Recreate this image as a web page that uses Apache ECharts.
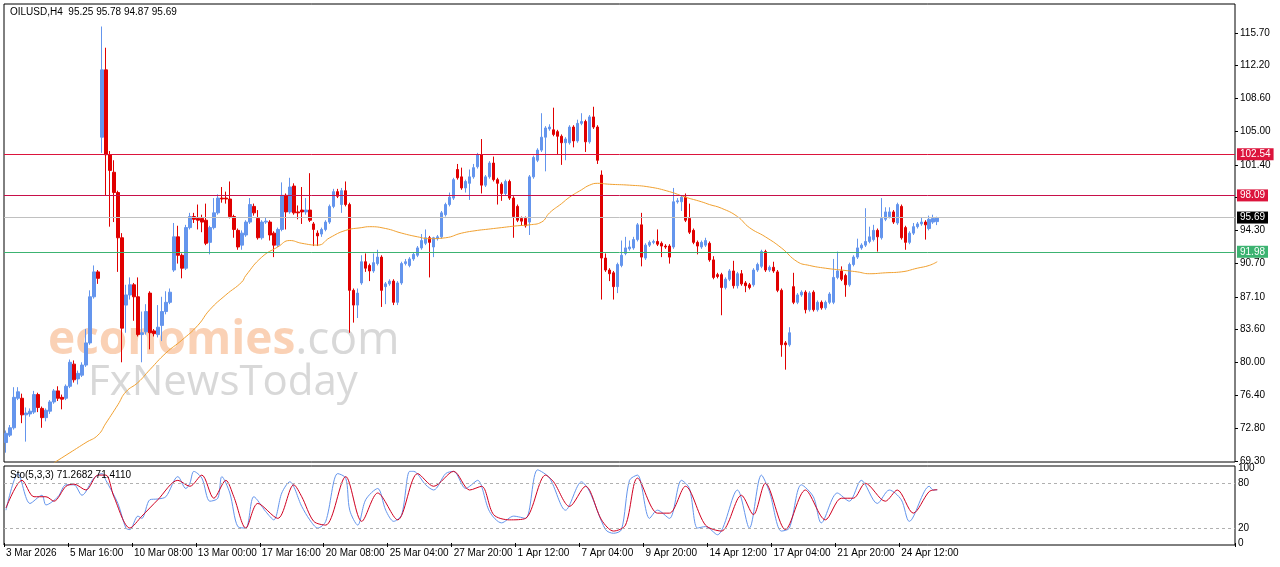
<!DOCTYPE html>
<html>
<head>
<meta charset="utf-8">
<title>OILUSD H4</title>
<script src="https://cdn.jsdelivr.net/npm/echarts@6/dist/echarts.min.js"></script>
<style>html,body{margin:0;padding:0;background:#fff;}</style>
</head>
<body>
<div id="main" style="width:1280px;height:567px;"></div>
<script>
// candles: [open, close, low, high]
var candles = [
[71.3,72.3,70.2,72.6],[72.1,72.9,71.9,73.2],[72.9,76.2,72.7,77.3],[76.1,76.8,75.9,77.3],[76.1,74.3,73.4,76.6],
[74.3,74.5,71.4,75.1],[74.4,74.7,74.1,75.0],[74.6,76.5,74.4,76.9],[76.5,75.1,74.6,76.7],[75.0,74.0,72.9,75.2],
[74.0,74.8,73.6,75.0],[74.7,75.7,74.4,75.9],[75.7,76.9,75.5,77.1],[76.9,76.1,75.8,77.4],[76.2,76.0,74.9,76.5],
[76.1,77.4,75.9,77.6],[77.4,80.0,77.2,80.3],[79.8,78.1,77.8,80.2],[78.2,78.8,77.6,79.1],[78.6,79.7,78.4,80.0],
[79.7,82.1,79.5,83.6],[82.1,87.1,81.9,87.8],[87.1,89.8,86.9,90.5],[89.8,89.1,88.5,90.0],[104.4,111.7,102.7,116.4],
[111.7,102.5,98.1,114.1],[102.5,100.8,94.7,102.9],[100.6,98.4,95.2,101.9],[98.4,93.5,89.8,98.6],[93.5,83.7,80.0,94.0],
[86.2,87.3,83.2,88.4],[87.3,88.4,86.8,89.2],[88.4,87.1,84.5,88.6],[87.1,83.0,82.8,89.2],[83.0,83.2,80.0,85.5],
[83.3,85.5,83.0,86.3],[87.5,83.2,81.4,87.7],[83.4,83.1,82.8,83.6],[83.0,83.8,82.7,86.2],[84.0,85.5,82.3,87.1],
[85.5,86.5,85.2,87.7],[86.5,87.6,86.3,88.0],[90.0,93.6,89.8,95.1],[93.6,91.6,90.7,94.8],[91.6,90.2,89.1,91.8],
[90.2,94.6,90.0,94.9],[94.6,95.8,94.4,96.2],[95.8,95.5,95.1,96.2],[95.6,95.4,94.4,97.1],[95.6,95.2,94.1,96.0],
[95.4,92.9,92.7,97.2],[93.0,94.6,91.7,94.8],[94.6,96.2,94.4,97.8],[96.2,97.8,96.0,98.2],[97.8,97.7,97.3,99.0],
[97.8,97.7,97.2,98.5],[97.7,95.8,95.6,99.6],[95.8,94.4,93.5,96.0],[94.3,92.5,92.2,94.5],[92.7,94.0,92.2,94.3],
[93.8,95.2,93.6,95.4],[95.2,97.1,95.0,97.8],[96.9,96.2,95.9,97.2],[95.6,93.5,93.3,96.5],[93.5,95.2,93.3,95.4],
[95.2,95.3,95.0,95.7],[95.2,93.8,93.2,95.4],[94.0,92.7,91.4,94.2],[92.7,94.4,92.5,94.6],[94.4,98.1,94.2,99.5],
[98.1,96.3,94.4,98.3],[96.3,99.0,96.1,100.0],[99.1,96.2,96.0,99.4],[96.3,96.2,95.5,97.0],[96.5,96.3,95.0,99.0],
[96.3,96.5,96.0,97.8],[96.5,95.4,95.2,100.5],[95.0,94.4,92.6,95.2],[94.0,93.7,92.6,94.3],[93.9,94.4,93.6,94.6],
[94.4,95.2,94.2,95.4],[95.2,96.9,95.0,97.1],[96.9,98.5,96.7,98.8],[98.5,98.0,97.8,98.8],[97.1,98.6,96.2,98.9],
[98.6,97.1,96.9,99.6],[97.1,87.8,83.2,97.3],[87.8,86.2,84.3,88.0],[86.2,87.5,84.8,88.0],[88.6,90.9,88.4,91.6],
[90.9,90.2,89.8,91.8],[90.5,89.9,88.8,90.7],[89.9,90.8,89.7,91.8],[90.7,91.4,90.5,92.2],[91.4,87.8,86.0,91.6],
[88.2,88.5,86.3,88.7],[88.5,88.8,88.3,89.0],[88.8,86.5,86.2,89.0],[86.5,88.6,86.2,88.8],[88.6,90.7,88.4,90.9],
[90.7,90.9,90.5,91.2],[90.5,91.2,90.3,91.4],[91.2,91.7,91.0,91.9],[91.6,92.4,91.4,92.6],[92.4,93.2,92.2,93.9],
[92.9,93.5,92.7,94.4],[93.5,93.0,89.2,93.7],[92.5,93.5,91.4,93.6],[93.4,93.6,93.2,93.8],[93.6,96.2,93.4,96.4],
[96.0,97.1,95.8,97.3],[97.1,97.9,96.9,98.4],[97.8,99.8,97.6,100.0],[100.9,100.0,99.8,101.5],[100.1,98.9,98.7,101.1],
[98.9,99.6,98.4,99.8],[99.4,100.1,97.6,100.9],[100.1,101.1,99.9,101.5],[101.2,102.5,101.0,102.7],[102.5,99.2,98.3,104.2],
[99.2,100.1,99.0,100.3],[100.1,101.6,99.9,101.8],[101.6,99.8,99.6,102.3],[99.8,99.4,97.1,100.0],[99.3,98.3,97.5,99.5],
[98.3,99.6,98.1,99.8],[99.6,97.8,97.6,99.8],[97.8,95.8,93.5,98.0],[96.9,95.4,95.2,97.1],[95.6,95.3,94.8,95.8],
[95.6,94.8,94.6,95.8],[95.2,100.1,93.8,100.3],[100.1,102.2,99.9,102.4],[101.9,103.0,101.7,103.2],[103.0,104.4,102.8,107.0],
[104.4,105.4,100.7,105.6],[105.3,105.5,105.1,105.8],[105.2,104.7,104.5,107.6],[105.0,104.5,102.5,105.2],[104.5,103.8,101.4,104.7],
[103.8,104.2,101.9,104.4],[103.8,105.5,103.6,105.7],[105.5,104.0,103.3,105.7],[104.0,105.9,103.8,106.3],[105.9,106.1,105.7,107.0],
[106.1,103.9,102.8,106.3],[103.9,106.6,103.7,106.8],[106.6,105.5,105.3,107.7],[105.5,101.9,101.5,105.7],[100.3,91.3,86.8,100.8],
[91.3,90.0,89.8,91.8],[90.0,89.6,88.8,90.2],[89.7,88.2,86.8,89.9],[88.2,90.6,87.5,90.8],[90.5,91.6,90.3,93.2],
[91.8,92.4,91.6,93.6],[92.3,92.5,92.1,93.2],[92.4,93.3,92.2,93.6],[93.3,94.9,93.1,95.1],[94.9,91.4,90.4,96.2],
[91.3,92.7,91.1,92.9],[92.7,93.0,92.5,93.2],[93.0,93.1,92.8,93.3],[93.1,92.8,92.6,94.4],[92.9,92.6,91.4,93.1],
[92.6,92.5,92.3,92.8],[92.6,91.4,90.7,92.8],[92.5,97.4,92.3,98.9],[97.4,97.5,97.2,97.8],[97.4,97.9,96.4,98.1],
[97.9,95.4,95.2,98.3],[95.6,94.1,93.9,97.2],[94.3,93.0,92.8,94.5],[93.0,92.6,91.7,93.2],[92.5,93.0,92.3,93.2],
[92.7,93.2,92.5,93.5],[92.9,91.1,90.9,93.1],[91.1,89.2,89.0,91.5],[89.5,89.3,89.1,89.7],[89.5,88.1,85.1,89.7],
[88.1,89.0,87.9,89.2],[89.0,89.9,88.8,90.1],[89.9,88.3,88.0,91.0],[88.3,89.6,88.0,89.8],[89.6,88.5,88.3,90.0],
[88.6,88.3,87.6,88.8],[88.4,88.1,87.9,88.6],[88.4,90.0,88.2,90.2],[90.0,90.6,89.8,90.8],[90.4,92.0,90.2,92.2],
[92.0,90.0,89.8,92.2],[90.0,90.3,89.8,90.5],[90.3,89.9,89.7,90.9],[89.8,87.8,87.6,90.0],[87.8,81.9,80.6,88.0],
[82.1,81.9,79.2,82.3],[81.9,83.2,81.7,83.8],[88.2,86.5,86.3,89.7],[86.5,87.3,86.3,87.5],[87.3,87.6,87.1,87.8],
[87.6,85.7,85.3,87.8],[85.7,87.5,85.5,87.7],[87.6,85.7,85.5,87.8],[85.7,86.5,85.5,86.7],[86.5,85.9,85.7,86.7],
[85.9,86.5,85.7,86.7],[86.5,87.4,86.3,87.6],[86.5,89.2,86.3,91.2],[89.2,89.9,89.0,92.0],[89.9,89.0,88.8,90.4],
[89.4,88.4,87.1,89.6],[88.4,90.6,88.2,90.8],[90.6,91.4,90.4,91.6],[91.4,92.4,91.2,93.4],[92.4,92.7,92.2,92.9],
[92.7,93.1,92.5,96.7],[93.1,93.6,92.9,94.7],[93.3,94.3,93.1,94.9],[94.3,93.6,92.0,94.5],[93.5,95.6,93.3,97.8],
[95.5,96.3,95.3,96.8],[95.8,96.3,95.6,96.8],[96.3,95.2,95.0,96.5],[95.1,97.1,94.9,97.3],[96.9,93.5,93.3,97.1],
[94.6,93.0,92.2,94.8],[93.0,94.0,92.8,94.2],[94.0,94.7,93.8,95.1],[94.7,95.0,94.5,95.2],[95.0,95.2,94.8,95.7],
[95.2,94.9,93.3,95.4],[94.5,95.5,94.3,95.9],[95.2,95.6,95.0,96.0],[95.25,95.69,94.87,95.78]
];

// moving average: [candle index, value]
var maPoints = [
[12,69.1],[16,70.2],[20,71.3],[23,72.1],[25,73.4],[28,75.4],[30,76.8],[33,77.8],[36,79.2],[40,81.0],
[44,82.4],[48,84.0],[51,85.7],[55,87.3],[59,88.7],[60,89.4],[64,91.4],[68,92.5],[71,93.2],[74,92.9],
[78,92.7],[81,93.5],[85,94.3],[89,94.6],[91,94.7],[95,94.5],[99,94.0],[103,93.6],[106,93.4],[110,93.5],
[114,94.0],[118,94.3],[120,94.4],[124,94.6],[128,94.8],[131,94.9],[134,95.2],[136,96.2],[139,97.2],[141,97.9],
[144,98.7],[146,99.2],[148,99.4],[151,99.3],[156,99.2],[161,99.0],[166,98.5],[170,97.9],[174,97.4],[176,97.1],
[179,96.7],[183,95.8],[186,94.6],[190,93.6],[194,92.4],[198,90.9],[201,90.5],[205,90.2],[209,90.0],[213,89.8],
[216,89.6],[220,89.7],[224,89.8],[228,90.2],[231,90.5],[233,90.9]
];

// stochastic main (blue) and signal (red): [candle index, value]
var stoMain = [
[0,44],[3,93],[6,53],[9,64],[10,51],[13,62],[15,78],[17,78],[19,64],[22,87],[24,93],[25,84],[28,53],[30,20],
[31,18],[33,36],[34,33],[36,58],[38,59],[40,62],[43,89],[45,73],[46,80],[47,96],[49,87],[51,56],[53,60],[54,89],
[56,67],[58,22],[60,20],[62,62],[65,42],[67,31],[69,67],[71,82],[74,49],[76,31],[78,20],[80,29],[83,93],[85,87],
[86,44],[88,24],[90,58],[93,73],[95,44],[97,29],[99,38],[101,96],[102,96],[105,78],[107,71],[110,93],[112,96],
[115,73],[116,76],[118,84],[121,42],[124,27],[127,36],[130,33],[133,98],[136,87],[140,44],[144,82],[146,69],
[150,18],[152,13],[154,18],[156,84],[158,91],[161,33],[163,44],[166,33],[169,84],[171,73],[173,20],[175,22],
[178,11],[183,71],[186,20],[189,91],[191,69],[194,16],[196,20],[199,78],[202,62],[204,27],[208,67],[211,56],
[214,84],[218,53],[221,71],[224,58],[226,29],[231,76],[232,71],[233,71.27]
];
var stoSignal = [
[0,47],[4,84],[7,62],[10,62],[12,56],[15,76],[17,79],[20,71],[23,91],[25,91],[27,62],[31,20],[34,36],[38,58],
[43,84],[46,76],[49,91],[52,60],[55,84],[57,62],[60,20],[63,53],[68,33],[72,78],[74,62],[77,29],[80,24],[85,89],
[89,29],[93,67],[98,31],[103,93],[107,76],[112,96],[116,71],[119,76],[122,38],[126,31],[130,33],[135,91],[137,82],
[141,49],[145,76],[149,31],[152,16],[155,24],[158,87],[163,40],[166,40],[170,76],[175,24],[179,16],[184,64],
[187,38],[190,80],[195,18],[200,71],[205,31],[209,60],[212,60],[215,80],[220,56],[223,71],[227,40],[231,69],[233,71.41]
];

var timeLabels = ['3 Mar 2026','5 Mar 16:00','10 Mar 08:00','13 Mar 00:00','17 Mar 16:00','20 Mar 08:00',
  '25 Mar 04:00','27 Mar 20:00','1 Apr 12:00','7 Apr 04:00','9 Apr 20:00','14 Apr 12:00','17 Apr 04:00',
  '21 Apr 20:00','24 Apr 12:00'];
var priceTicks = [115.70,112.20,108.60,105.00,101.40,97.90,94.30,90.70,87.10,83.60,80.00,76.40,72.80,69.30];
var stoTicks = [100,80,20,0];
var levels = [
  {v:102.54, c:'#dc143c', bg:'#dc143c'},
  {v:98.09, c:'#c8104a', bg:'#dc143c'},
  {v:95.69, c:'#c0c0c0', bg:'#000000'},
  {v:91.98, c:'#3cb371', bg:'#3cb371'}
];

var slots = 308, labelStep = 16;
var cats = [];
for (var i = 0; i < slots; i++) cats.push(i);
function isLabel(i) { return i % labelStep === 0 && i / labelStep < timeLabels.length; }

var chart = echarts.init(document.getElementById('main'));
var font = '"Liberation Sans", Arial, sans-serif';

chart.setOption({
  animation: false,
  backgroundColor: '#fff',
  grid: [
    {left: 4, right: 45, top: 4, height: 458, show: true, borderColor: '#000', borderWidth: 1},
    {left: 4, right: 45, top: 466, height: 79, show: true, borderColor: '#000', borderWidth: 1}
  ],
  xAxis: [
    {type: 'category', gridIndex: 0, data: cats, boundaryGap: true,
      axisLine: {show: false}, axisTick: {show: false}, axisLabel: {show: false}, splitLine: {show: false}},
    {type: 'category', gridIndex: 1, data: cats, boundaryGap: true,
      axisLine: {show: false},
      axisTick: {show: true, interval: function (i) { return isLabel(i); }, length: 4, lineStyle: {color: '#000'}},
      axisLabel: {interval: function (i) { return isLabel(i); }, align: 'left', margin: 3, fontSize: 10, color: '#000', fontFamily: font,
        formatter: function (v) { return timeLabels[v / labelStep] || ''; }},
      splitLine: {show: false}}
  ],
  yAxis: [
    {type: 'value', gridIndex: 0, position: 'right', min: 69.19, max: 118.84, splitLine: {show: false},
      axisLine: {show: false},
      axisTick: {show: true, customValues: priceTicks, length: 3, lineStyle: {color: '#000'}},
      axisLabel: {customValues: priceTicks, fontSize: 10, color: '#000', fontFamily: font, margin: 5,
        formatter: function (v) { return v.toFixed(2); }}},
    {type: 'value', gridIndex: 1, position: 'right', min: -2.7, max: 103.2, splitLine: {show: false},
      axisLine: {show: false}, axisTick: {show: false},
      axisLabel: {customValues: stoTicks, fontSize: 10, color: '#000', fontFamily: font, margin: 3}}
  ],
  series: [
    {type: 'candlestick', xAxisIndex: 0, yAxisIndex: 0, data: candles, barWidth: 3,
      itemStyle: {color: '#6495ed', color0: '#e00000', borderColor: '#6495ed', borderColor0: '#e00000', borderWidth: 1},
      markLine: {silent: true, symbol: 'none', animation: false,
        data: levels.map(function (l) {
          return {yAxis: l.v, lineStyle: {color: l.c, width: 1, type: 'solid'},
            label: {show: true, position: 'end', distance: 2, formatter: l.v.toFixed(2), color: '#fff',
              backgroundColor: l.bg, padding: [1, 3], fontSize: 10, fontFamily: font}};
        })}},
    {type: 'line', xAxisIndex: 0, yAxisIndex: 0, data: maPoints, showSymbol: false, smooth: true,
      lineStyle: {color: '#f0a030', width: 1}, z: 3},
    {type: 'line', xAxisIndex: 1, yAxisIndex: 1, data: stoMain, showSymbol: false, smooth: 0.3,
      lineStyle: {color: '#6495ed', width: 1},
      markLine: {silent: true, symbol: 'none', label: {show: false},
        lineStyle: {color: '#b0b0b0', type: [3, 3], width: 1},
        data: [{yAxis: 80}, {yAxis: 20}]}},
    {type: 'line', xAxisIndex: 1, yAxisIndex: 1, data: stoSignal, showSymbol: false, smooth: 0.3,
      lineStyle: {color: '#d00020', width: 1}}
  ],
  graphic: [
    {type: 'text', left: 10, top: 7, z: 10, style: {text: 'OILUSD,H4  95.25 95.78 94.87 95.69', fontSize: 10, fill: '#000', fontFamily: font}},
    {type: 'text', left: 10, top: 470, z: 10, style: {text: 'Sto(5,3,3) 71.2682 71.4110', fontSize: 10, fill: '#000', fontFamily: font}},
    {type: 'text', left: 48, top: 318, z: 1, style: {
      rich: {a: {fontSize: 46, fontWeight: 'bold', fill: 'rgba(248,190,150,0.7)', fontFamily: '"Open Sans", Arial, sans-serif'},
             b: {fontSize: 46, fill: 'rgba(200,200,200,0.7)', fontFamily: '"Open Sans", Arial, sans-serif'}},
      text: '{a|economies}{b|.com}'}},
    {type: 'text', left: 88, top: 362, z: 1, style: {text: 'FxNewsToday', fontSize: 42,
      fill: 'rgba(200,200,200,0.7)', fontFamily: '"Open Sans", Arial, sans-serif'}}
  ]
});
</script>
</body>
</html>
